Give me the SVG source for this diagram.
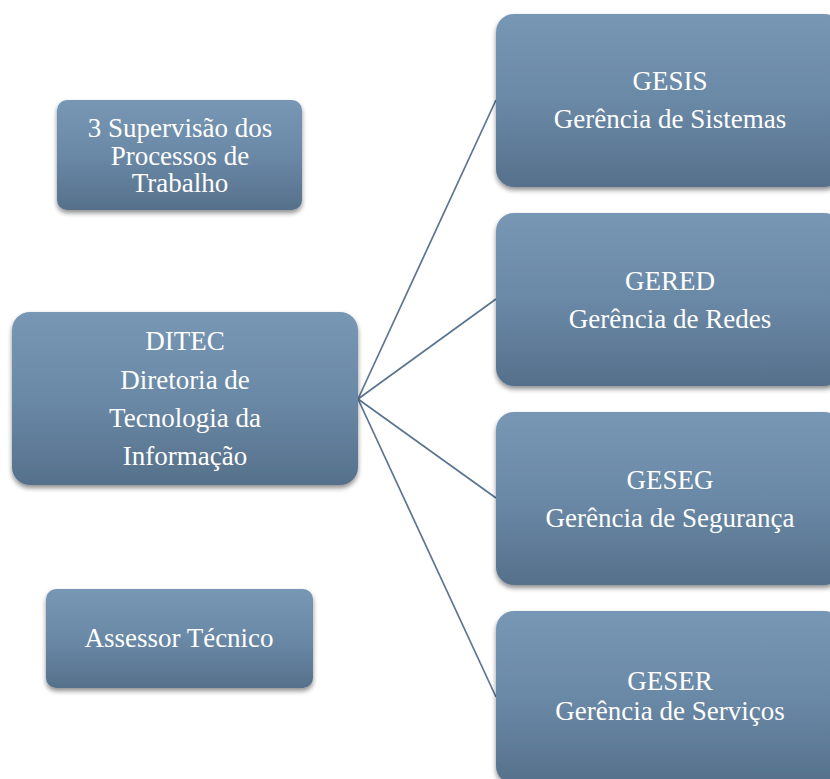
<svg xmlns="http://www.w3.org/2000/svg" width="830" height="779" viewBox="0 0 830 779">
<defs>
<linearGradient id="g" x1="0" y1="0" x2="0" y2="1">
<stop offset="0" stop-color="#7797b4"/>
<stop offset="0.5" stop-color="#6a89a6"/>
<stop offset="1" stop-color="#56708b"/>
</linearGradient>
<filter id="sh" x="-10%" y="-10%" width="120%" height="130%">
<feGaussianBlur in="SourceAlpha" stdDeviation="2.5"/>
<feOffset dx="0" dy="3" result="b"/>
<feComponentTransfer><feFuncA type="linear" slope="0.45"/></feComponentTransfer>
<feMerge><feMergeNode/><feMergeNode in="SourceGraphic"/></feMerge>
</filter>
</defs>
<style>
.box{fill:url(#g);filter:url(#sh)}
text{font-family:"Liberation Serif","Times New Roman",serif;font-size:27px;fill:#ffffff;text-anchor:middle}
.con{stroke:#5a7590;stroke-width:1.7;fill:none}
</style>
<rect width="830" height="779" fill="#ffffff"/>
<g id="connectors">
<line class="con" x1="358" y1="399" x2="496" y2="100"/>
<line class="con" x1="358" y1="399" x2="496" y2="299"/>
<line class="con" x1="358" y1="399" x2="496" y2="498"/>
<line class="con" x1="358" y1="399" x2="496" y2="697"/>
</g>
<g id="supervisao">
<rect class="box" x="57" y="100" width="245" height="110" rx="10"/>
<text x="180" y="137">3 Supervisão dos</text>
<text x="180" y="165">Processos de</text>
<text x="180" y="192">Trabalho</text>
</g>
<g id="ditec">
<rect class="box" x="12" y="312" width="346" height="173" rx="18"/>
<text x="185" y="350">DITEC</text>
<text x="185" y="389">Diretoria de</text>
<text x="185" y="427">Tecnologia da</text>
<text x="185" y="465">Informação</text>
</g>
<g id="assessor">
<rect class="box" x="46" y="589" width="267" height="99" rx="10"/>
<text x="179" y="647">Assessor Técnico</text>
</g>
<g id="gesis">
<rect class="box" x="496" y="14" width="346" height="173" rx="18"/>
<text x="670" y="90">GESIS</text>
<text x="670" y="128">Gerência de Sistemas</text>
</g>
<g id="gered">
<rect class="box" x="496" y="213" width="346" height="173" rx="18"/>
<text x="670" y="290">GERED</text>
<text x="670" y="328">Gerência de Redes</text>
</g>
<g id="geseg">
<rect class="box" x="496" y="412" width="346" height="173" rx="18"/>
<text x="670" y="489">GESEG</text>
<text x="670" y="527">Gerência de Segurança</text>
</g>
<g id="geser">
<rect class="box" x="496" y="611" width="346" height="173" rx="18"/>
<text x="670" y="690">GESER</text>
<text x="670" y="720">Gerência de Serviços</text>
</g>
</svg>
